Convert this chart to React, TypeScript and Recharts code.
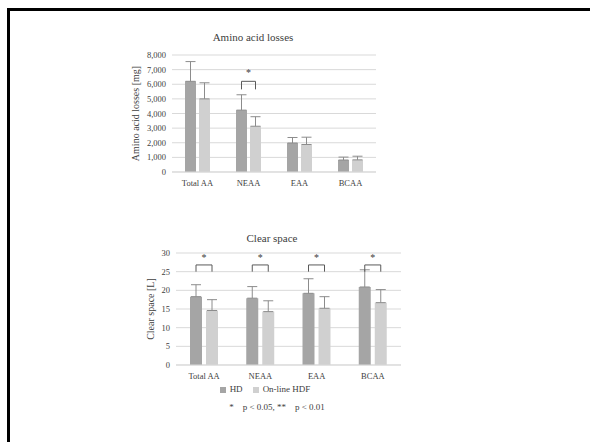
import { BarChart, Bar, XAxis, YAxis, CartesianGrid, ErrorBar, LabelList, Legend } from 'recharts';

const categories = ['Total AA', 'NEAA', 'EAA', 'BCAA'];

// Amino acid losses [mg]
const aaHd = [6200, 4230, 1980, 820];
const aaHdErr = [1350, 1050, 380, 200];
const aaHdf = [5000, 3130, 1880, 830];
const aaHdfErr = [1100, 650, 500, 250];
const aaSig = [false, true, false, false];
const aaTicks = [0, 1000, 2000, 3000, 4000, 5000, 6000, 7000, 8000];
const aaBracket = { top: 6200, leg: 5650, star: 6750 };

// Clear space [L]
const csHd = [18.3, 17.9, 19.2, 20.9];
const csHdErr = [3.2, 3.1, 3.9, 4.6];
const csHdf = [14.6, 14.3, 15.2, 16.7];
const csHdfErr = [2.9, 2.9, 3.1, 3.5];
const csSig = [true, true, true, true];
const csTicks = [0, 5, 10, 15, 20, 25, 30];
const csBracket = { top: 26.8, leg: 25, star: 28.4 };

const FONT = '"Liberation Serif", "DejaVu Serif", serif';
const HD = '#a5a5a5';
const HDF = '#d0d0d0';
const TEXT = '#404040';

const aaData = categories.map((name, i) => ({ name, hd: aaHd[i], hdErr: [0, aaHdErr[i]], hdf: aaHdf[i], hdfErr: [0, aaHdfErr[i]] }));
const csData = categories.map((name, i) => ({ name, hd: csHd[i], hdErr: [0, csHdErr[i]], hdf: csHdf[i], hdfErr: [0, csHdfErr[i]] }));

// draws the significance bracket over a HD / HDF pair, scaled from the HD bar itself
function bracket(sig: boolean[], values: number[], b: { top: number; leg: number; star: number }, gap: number) {
  return (props: any) => {
    const { x, y, width, height, index } = props;
    if (!sig[index]) return null;
    const base = y + height;
    const ppu = height / values[index];
    const x1 = x + width / 2;
    const x2 = x + width + gap + width / 2;
    const yt = base - b.top * ppu;
    const yl = base - b.leg * ppu;
    const ys = base - b.star * ppu;
    return (
      <g>
        <path d={`M${x1},${yl}V${yt}H${x2}V${yl}`} fill="none" stroke="#595959" strokeWidth={1} />
        <text x={(x1 + x2) / 2} y={ys} textAnchor="middle" dominantBaseline="middle" fontSize={10} fontFamily={FONT} fill={TEXT}>*</text>
      </g>
    );
  };
}

function yLabel(text: string, cx: number) {
  return (props: any) => {
    const vb = props.viewBox;
    const cy = vb.y + vb.height / 2;
    return (
      <text x={cx} y={cy} transform={`rotate(-90 ${cx} ${cy})`} textAnchor="middle" dominantBaseline="middle" fontSize={10} fontFamily={FONT} fill={TEXT}>
        {text}
      </text>
    );
  };
}

const tick = { fontSize: 8.5, fontFamily: FONT, fill: TEXT };

export default function App() {
  return (
    <div style={{ position: 'absolute', left: 0, top: 0, width: 590, height: 442, background: '#fff', fontFamily: FONT }}>
      <div style={{ position: 'absolute', left: 7, top: 8, width: 600, height: 460, borderTop: '3px solid #000', borderLeft: '3px solid #000' }} />

      <div style={{ position: 'absolute', left: 153, top: 31, width: 200, textAlign: 'center', fontSize: 11, color: TEXT }}>Amino acid losses</div>
      <div style={{ position: 'absolute', left: 100, top: 30 }}>
        <BarChart width={300} height={180} data={aaData} barSize={11} barGap={3} margin={{ top: 25, right: 24, bottom: 18, left: 0 }}>
          <CartesianGrid vertical={false} stroke="#d9d9d9" />
          <XAxis dataKey="name" tickLine={false} axisLine={{ stroke: '#d9d9d9' }} tick={tick} height={20} interval={0} />
          <YAxis domain={[0, 8000]} ticks={aaTicks} interval={0} width={72} axisLine={false} tickLine={false} tickSize={4} tickMargin={2} tick={tick}
            tickFormatter={(v: number) => v.toLocaleString('en-US')} label={{ content: yLabel('Amino acid losses [mg]', 37) }} />
          <Bar dataKey="hd" name="HD" fill={HD} isAnimationActive={false}>
            <ErrorBar dataKey="hdErr" direction="y" width={5} stroke="#8c8c8c" strokeWidth={1} isAnimationActive={false} />
            <LabelList dataKey="hd" content={bracket(aaSig, aaHd, aaBracket, 3)} />
          </Bar>
          <Bar dataKey="hdf" name="On-line HDF" fill={HDF} isAnimationActive={false}>
            <ErrorBar dataKey="hdfErr" direction="y" width={5} stroke="#8c8c8c" strokeWidth={1} isAnimationActive={false} />
          </Bar>
        </BarChart>
      </div>

      <div style={{ position: 'absolute', left: 172, top: 232, width: 200, textAlign: 'center', fontSize: 11, color: TEXT }}>Clear space</div>
      <div style={{ position: 'absolute', left: 100, top: 230 }}>
        <BarChart width={330} height={200} data={csData} barSize={12} barGap={4} margin={{ top: 23, right: 29, bottom: 33, left: 0 }}>
          <CartesianGrid vertical={false} stroke="#d9d9d9" />
          <XAxis dataKey="name" tickLine={false} axisLine={{ stroke: '#d9d9d9' }} tick={tick} height={20} interval={0} />
          <YAxis domain={[0, 30]} ticks={csTicks} interval={0} width={76} axisLine={false} tickLine={false} tickSize={4} tickMargin={2} tick={tick}
            label={{ content: yLabel('Clear space [L]', 52) }} />
          <Legend iconType="square" iconSize={6} layout="horizontal"
            wrapperStyle={{ left: 90, top: 153, width: 160, fontSize: 9, fontFamily: FONT, lineHeight: '12px' }}
            formatter={(v: string) => <span style={{ color: TEXT }}>{v}</span>} />
          <Bar dataKey="hd" name="HD" fill={HD} isAnimationActive={false}>
            <ErrorBar dataKey="hdErr" direction="y" width={5} stroke="#8c8c8c" strokeWidth={1} isAnimationActive={false} />
            <LabelList dataKey="hd" content={bracket(csSig, csHd, csBracket, 4)} />
          </Bar>
          <Bar dataKey="hdf" name="On-line HDF" fill={HDF} isAnimationActive={false}>
            <ErrorBar dataKey="hdfErr" direction="y" width={5} stroke="#8c8c8c" strokeWidth={1} isAnimationActive={false} />
          </Bar>
        </BarChart>
      </div>

      <div style={{ position: 'absolute', left: 177, top: 402, width: 200, textAlign: 'center', fontSize: 9, color: TEXT, whiteSpace: 'pre' }}>
        {'*    p < 0.05, **    p < 0.01'}
      </div>
    </div>
  );
}
